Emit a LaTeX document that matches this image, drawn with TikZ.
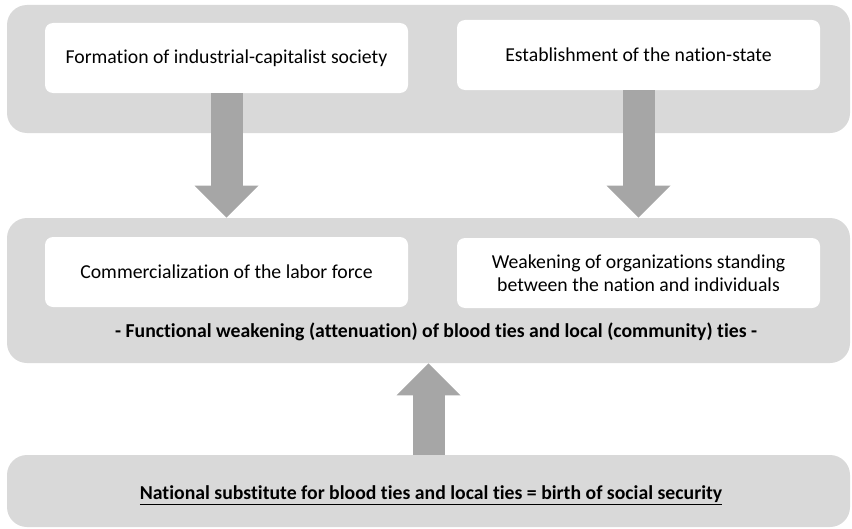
\documentclass[tikz,border=0pt]{standalone}
\usepackage{fontspec}
\setmainfont[Ligatures={NoCommon}]{Carlito}
\usepackage{xcolor}
\usetikzlibrary{positioning,arrows.meta}
\definecolor{panelgray}{HTML}{D9D9D9}
\definecolor{arrowgray}{HTML}{A6A6A6}

\begin{document}
\begin{tikzpicture}[x=0.75pt,y=-0.75pt,
    panel/.style={fill=panelgray, rounded corners=15pt, minimum width=632.25pt, inner sep=0pt},
    card/.style={fill=white, rounded corners=6pt, minimum width=272.25pt, minimum height=52.5pt,
        align=center, inner sep=0pt, font=\fontsize{14.8}{17.5}\selectfont},
    boldtext/.style={font=\fontsize{14.8}{17.5}\selectfont\bfseries},
    bigarrow/.style={draw=arrowgray, line width=24pt,
        -{Triangle[length=24pt,width=48pt,line width=0pt]}}]
    \useasboundingbox (0,0) rectangle (852,528);

    % Panels
    \node[panel, minimum height=96pt] (top) at (428.5,69) {};
    \node[panel, minimum height=108.75pt] (middle) at (428.5,290.5) {};
    \node[panel, minimum height=54pt] (bottom) at (428.5,491) {};

    % Causes
    \node[card] (formation) at (226.5,58) {Formation of industrial-capitalist society};
    \node[card] (nation) at (638.5,55) {Establishment of the nation-state};

    % Effects
    \node[card] (labor) at (226.5,272) {Commercialization of the labor force};
    \node[card] (weakening) at (638.5,273) {Weakening of organizations standing\\between the nation and individuals};
    \node[boldtext] (ties) at (436,332) {- Functional weakening (attenuation) of blood ties and local (community) ties -};

    % Social security
    \node[boldtext] (security) at (431,495) {\underline{National substitute for blood ties and local ties = birth of social security}};

    % Arrows
    \draw[bigarrow] (formation.south) -- (formation.south |- middle.north);
    \draw[bigarrow] (nation.south) -- (nation.south |- middle.north);
    \draw[bigarrow] (bottom.north) -- (middle.south);
\end{tikzpicture}
\end{document}
